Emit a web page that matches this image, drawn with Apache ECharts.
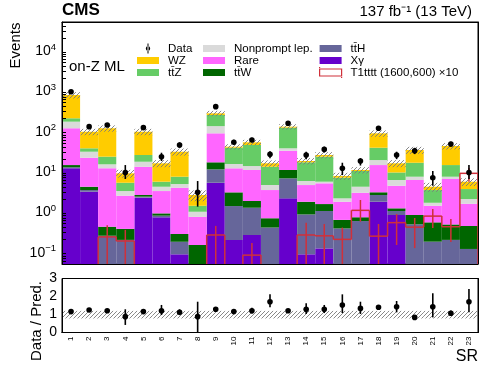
<!DOCTYPE html>
<html>
<head>
<meta charset="utf-8">
<script src="https://cdn.jsdelivr.net/npm/echarts@6/dist/echarts.min.js"></script>
<style>html,body{margin:0;padding:0;background:#fff}#chart{width:498px;height:374px}</style>
</head>
<body>
<div id="chart"></div>
<script>
var bins = ['1','2','3','4','5','6','7','8','9','10','11','12','13','14','15','16','17','18','19','20','21','22','23'];

// backgrounds, bottom of stack first
var xgamma    = [11.8, 3.10, 0.001, 0.001, 2.21, 0.72, 0.087, 0.001, 5.17, 0.197, 0.262, 0.001, 2.12, 0.087, 0.122, 0.001, 0.001, 1.75, 0.82, 0.001, 0.001, 0.001, 0.001];
var tth       = [0.7, 0.31, 0.25, 0.197, 0.13, 0.07, 0.091, 0.01, 5.93, 1.17, 0.98, 0.40, 4.53, 0.76, 0.91, 0.38, 0.58, 0.82, 0.21, 0.48, 0.178, 0.197, 0.117];
var ttw       = [1.7, 0.71, 0.17, 0.173, 0.23, 0.11, 0.099, 0.137, 5.5, 1.62, 0.58, 0.28, 4.05, 0.9, 0.5, 0.24, 0.14, 0.43, 0.17, 0.34, 0.36, 0.28, 0.32];
var rare      = [101.8, 17.5, 11.4, 2.1, 10.3, 2.32, 3.61, 0.59, 70.3, 8.8, 8.9, 2.73, 21.5, 2.79, 3.47, 1.13, 2.2, 11.2, 3.16, 5.22, 0.85, 5.92, 1.12];
var nonprompt = [53, 8.8, 3.0, 0.75, 4.3, 0.9, 0.91, 0.25, 44.1, 3.3, 2.7, 1.13, 4.7, 1.18, 0.49, 0.37, 1.2, 4.7, 1.68, 1.26, 0.26, 0.9, 0.48];
var ttz       = [36, 6.5, 8.1, 1.95, 8.0, 1.37, 2.5, 0.4, 116, 23.1, 31.2, 8.36, 83.1, 10.9, 17.4, 4.76, 5.98, 19.3, 3.26, 8.9, 1.76, 6.9, 1.57];
var wz        = [569, 58.1, 93.1, 3.68, 69.8, 10.2, 23.1, 1.18, 25, 2.3, 7.4, 2.8, 7, 1.3, 2.3, 0.72, 0.6, 48.7, 6.4, 17.3, 0.71, 27.9, 1.88];
// relative uncertainty of the prediction
var predUnc   = [0.18, 0.18, 0.18, 0.22, 0.18, 0.2, 0.2, 0.3, 0.15, 0.15, 0.15, 0.18, 0.15, 0.18, 0.18, 0.2, 0.18, 0.18, 0.2, 0.2, 0.25, 0.18, 0.22];

// observed
var dataObs = [935, 127, 140, 9.3, 120, 22.9, 44.6, 3.0, 398, 52, 59.3, 26.2, 154, 25.2, 34.7, 11.8, 17.9, 116, 25.2, 32.2, 6.88, 47.2, 9.3];
var dataLo  = [900, 116, 128, 6.4, 109, 17.9, 38, 1.32, 378, 45, 52, 21, 142, 19.9, 29, 8.0, 13.8, 105, 19.9, 26.5, 4.36, 40.5, 6.4];
var dataHi  = [970, 138, 152, 14.2, 131, 28.7, 52, 5.7, 418, 60, 67, 31, 166, 30.4, 40.5, 16.2, 21.1, 127, 30.4, 38, 10.1, 54, 14.2];

// signal T1tttt x10
var sig   = [0.02, 0.02, 0.235, 0.186, 0.02, 0.02, 0.02, 0.02, 0.262, 0.02, 0.083, 0.02, 0.02, 0.262, 0.25, 0.204, 1.07, 0.245, 0.53, 0.41, 0.77, 0.42, 8.85];
var sigLo = [0.01, 0.01, 0.01, 0.01, 0.01, 0.01, 0.01, 0.01, 0.01, 0.01, 0.01, 0.01, 0.01, 0.01, 0.01, 0.01, 0.56, 0.01, 0.148, 0.124, 0.39, 0.175, 5.5];
var sigHi = [0.03, 0.03, 0.46, 0.35, 0.03, 0.03, 0.03, 0.03, 0.44, 0.03, 0.166, 0.03, 0.03, 0.53, 0.49, 0.40, 1.93, 0.49, 0.87, 0.69, 1.15, 0.65, 12];

// ratio panel
var ratio   = [1.16, 1.25, 1.21, 0.88, 1.16, 1.21, 1.12, 0.88, 1.29, 1.16, 1.21, 1.71, 1.21, 1.29, 1.29, 1.53, 1.34, 1.40, 1.43, 0.84, 1.43, 1.07, 1.71];
var ratioLo = [1.10, 1.15, 1.10, 0.42, 1.05, 0.97, 0.97, 0.0, 1.22, 1.04, 1.05, 1.40, 1.11, 1.03, 1.08, 1.08, 1.03, 1.28, 1.12, 0.72, 0.84, 0.92, 1.12];
var ratioHi = [1.22, 1.35, 1.32, 1.29, 1.27, 1.53, 1.29, 1.71, 1.36, 1.28, 1.37, 2.12, 1.31, 1.62, 1.53, 2.12, 1.71, 1.52, 1.75, 0.96, 2.18, 1.22, 2.42];
var bandLo = 0.78, bandHi = 1.2;

var comps  = [xgamma, tth, ttw, rare, nonprompt, ttz, wz];
var names  = ['X\u03b3', 'tt\u0304H', 'tt\u0304W', 'Rare', 'Nonprompt lep.', 'tt\u0304Z', 'WZ'];
var colors = ['#6600cc', '#66669a', '#006600', '#ff66ff', '#dadada', '#66cc66', '#ffcc00'];
var sigName = 'T1tttt (1600,600) \u00d710';
var sigColor = '#d0303a';
var FONT = 'Liberation Sans';

function hatchCanvas() {
    var c = document.createElement('canvas');
    c.width = 4; c.height = 4;
    var g = c.getContext('2d');
    g.strokeStyle = '#7a7a7a';
    g.lineWidth = 0.9;
    g.beginPath();
    g.moveTo(0, 4); g.lineTo(4, 0);
    g.moveTo(-1, 1); g.lineTo(1, -1);
    g.moveTo(3, 5); g.lineTo(5, 3);
    g.stroke();
    return c;
}
var hatch = { image: hatchCanvas(), repeat: 'repeat' };

function clampY(y, cs) {
    return Math.max(cs.y, Math.min(cs.y + cs.height, y));
}

function stackRender(k) {
    return function (params, api) {
        var i = api.value(0);
        var lo = 0;
        for (var j = 0; j < k; j++) lo += comps[j][i];
        var hi = lo + api.value(1);
        var cs = params.coordSys;
        var pHi = api.coord([i, hi]);
        var yHi = clampY(pHi[1], cs);
        var yLo = lo > 0 ? clampY(api.coord([i, lo])[1], cs) : cs.y + cs.height;
        if (yLo - yHi <= 0) return;
        var w = api.size([1, 1])[0];
        return { type: 'rect', shape: { x: pHi[0] - w / 2, y: yHi, width: w, height: yLo - yHi },
                 style: { fill: colors[k] } };
    };
}

function bandRender(params, api) {
    var i = api.value(0);
    var cs = params.coordSys;
    var p1 = api.coord([i, api.value(1)]);
    var p2 = api.coord([i, api.value(2)]);
    var w = api.size([1, 1])[0];
    var y1 = clampY(p1[1], cs), y2 = clampY(p2[1], cs);
    return { type: 'rect', shape: { x: p1[0] - w / 2, y: y2, width: w, height: y1 - y2 },
             style: { fill: hatch } };
}

function pointRender(params, api) {
    var i = api.value(0);
    var cs = params.coordSys;
    var p = api.coord([i, api.value(1)]);
    var lo = api.value(2) > 0 || cs.height < 100 ? clampY(api.coord([i, Math.max(api.value(2), 1e-6)])[1], cs) : cs.y + cs.height;
    var hi = clampY(api.coord([i, api.value(3)])[1], cs);
    return { type: 'group', children: [
        { type: 'line', shape: { x1: p[0], y1: lo, x2: p[0], y2: hi }, style: { stroke: '#000', lineWidth: 1.6 } },
        { type: 'circle', shape: { cx: p[0], cy: p[1], r: 2.8 }, style: { fill: '#000' } }
    ] };
}

function sigRender(params, api) {
    var i = api.value(0);
    var cs = params.coordSys;
    var bottom = cs.y + cs.height;
    var w = api.size([1, 1])[0];
    var p = api.coord([i, api.value(1)]);
    var y = clampY(p[1], cs);
    var x0 = p[0] - w / 2, x1 = p[0] + w / 2;
    var yPrev = i > 0 ? clampY(api.coord([i - 1, sig[i - 1]])[1], cs) : bottom;
    var st = { stroke: sigColor, lineWidth: 1.5 };
    var ch = [];
    if (y < bottom) ch.push({ type: 'line', shape: { x1: x0, y1: y, x2: x1, y2: y }, style: st });
    if (Math.abs(yPrev - y) > 0.5) ch.push({ type: 'line', shape: { x1: x0, y1: yPrev, x2: x0, y2: y }, style: st });
    if (i === bins.length - 1 && y < bottom) ch.push({ type: 'line', shape: { x1: x1, y1: y, x2: x1, y2: bottom }, style: st });
    var eLo = clampY(api.coord([i, api.value(2)])[1], cs);
    var eHi = clampY(api.coord([i, api.value(3)])[1], cs);
    if (eLo - eHi > 0.5 && y < bottom) ch.push({ type: 'line', shape: { x1: p[0], y1: eLo, x2: p[0], y2: eHi }, style: st });
    return { type: 'group', children: ch };
}

function logLabel(v) {
    var l = Math.log(v) / Math.LN10;
    var e = Math.round(l);
    if (Math.abs(l - e) > 1e-6) return '';
    return '{b|10}{s|' + (e < 0 ? '\u2212' + (-e) : e) + '}';
}

var series = [];
comps.forEach(function (arr, k) {
    series.push({
        type: 'custom', name: names[k], xAxisIndex: 0, yAxisIndex: 0,
        itemStyle: { color: colors[k] },
        renderItem: stackRender(k),
        data: arr.map(function (v, i) { return [i, v]; }),
        z: 2
    });
});
series.push({
    type: 'custom', name: 'unc', xAxisIndex: 0, yAxisIndex: 0, z: 3,
    renderItem: bandRender,
    data: bins.map(function (b, i) {
        var tot = 0;
        for (var k = 0; k < comps.length; k++) tot += comps[k][i];
        return [i, tot * (1 - predUnc[i]), tot * (1 + predUnc[i])];
    })
});
series.push({
    type: 'custom', name: sigName, xAxisIndex: 0, yAxisIndex: 0, z: 4,
    itemStyle: { color: '#fff', borderColor: sigColor, borderWidth: 1.2 },
    renderItem: sigRender,
    data: sig.map(function (v, i) { return [i, v, sigLo[i], sigHi[i]]; })
});
series.push({
    type: 'custom', name: 'Data', xAxisIndex: 0, yAxisIndex: 0, z: 5,
    itemStyle: { color: '#000' },
    renderItem: pointRender,
    data: dataObs.map(function (v, i) { return [i, v, dataLo[i], dataHi[i]]; })
});
series.push({
    type: 'custom', name: 'band', xAxisIndex: 2, yAxisIndex: 2, z: 3,
    renderItem: bandRender,
    data: bins.map(function (b, i) { return [i, bandLo, bandHi]; })
});
series.push({
    type: 'custom', name: 'ratio', xAxisIndex: 2, yAxisIndex: 2, z: 5,
    renderItem: pointRender,
    data: ratio.map(function (v, i) { return [i, v, ratioLo[i], ratioHi[i]]; })
});

var blackLine = { show: true, lineStyle: { color: '#000', width: 1 } };
var legendBase = {
    orient: 'vertical', top: 42.5, padding: 0, itemWidth: 22, itemHeight: 10, itemGap: 0,
    icon: 'rect', selectedMode: false,
    textStyle: { fontFamily: FONT, fontSize: 11.5, color: '#000', lineHeight: 11.7, padding: [0, 0, 0, 4] }
};
function legendAt(left, data) {
    return Object.assign({}, legendBase, { left: left, data: data });
}
// swatch 22x7 inside a 22x10 box (tiny corner specks keep the box size)
var boxIcon = 'path://M0,0H0.01V0.01H0Z M0,1.5H22V8.5H0Z M21.99,9.99H22V10H21.99Z';
var dataIcon = 'path://M1.7,0H2.7V10H1.7Z M0,5A2.2,2.2,0,1,0,4.4,5A2.2,2.2,0,1,0,0,5Z';
function box(name, extra) {
    return Object.assign({ name: name, icon: boxIcon }, extra || {});
}

var option = {
    animation: false,
    textStyle: { fontFamily: FONT },
    grid: [
        { left: 62, top: 22, width: 416, height: 242, show: true, borderColor: '#000', borderWidth: 1, backgroundColor: 'transparent' },
        { left: 62, top: 278.5, width: 416, height: 54, show: true, borderColor: '#000', borderWidth: 1, backgroundColor: 'transparent' }
    ],
    legend: [
        legendAt(137, [{ name: 'Data', icon: dataIcon, itemStyle: { color: '#000' } }, box('WZ'), box('tt\u0304Z')]),
        legendAt(203, [box('Nonprompt lep.'), box('Rare'), box('tt\u0304W')]),
        legendAt(319, [box('tt\u0304H'), box('X\u03b3'), box(sigName, { itemStyle: { color: '#fff', borderColor: sigColor, borderWidth: 1.2 } })])
    ],
    xAxis: [
        { type: 'category', gridIndex: 0, data: bins, z: 10, axisLine: blackLine,
          axisTick: { inside: true, alignWithLabel: true, length: 4, lineStyle: { color: '#000' } },
          axisLabel: { show: false } },
        { type: 'category', gridIndex: 0, data: bins, position: 'top', z: 10, axisLine: blackLine,
          axisTick: { show: false }, axisLabel: { show: false } },
        { type: 'category', gridIndex: 1, data: bins, z: 10, axisLine: blackLine,
          axisTick: { inside: true, alignWithLabel: true, length: 4, lineStyle: { color: '#000' } },
          axisLabel: { rotate: 90, fontSize: 8, margin: 4, color: '#000', fontFamily: FONT } },
        { type: 'category', gridIndex: 1, data: bins, position: 'top', z: 10, axisLine: blackLine,
          axisTick: { show: false }, axisLabel: { show: false } }
    ],
    yAxis: [
        { type: 'log', logBase: 10, gridIndex: 0, min: 0.05, max: 50000, z: 10,
          axisLine: blackLine, splitLine: { show: false },
          axisTick: { inside: true, length: 8, lineStyle: { color: '#000' } },
          minorTick: { show: true, splitNumber: 9, length: 4, lineStyle: { color: '#000' } },
          axisLabel: { formatter: logLabel, margin: 6, showMinLabel: false, showMaxLabel: false,
              rich: {
                  b: { fontSize: 14, fontFamily: FONT, color: '#000', lineHeight: 16, verticalAlign: 'bottom' },
                  s: { fontSize: 9.5, fontFamily: FONT, color: '#000', lineHeight: 10, verticalAlign: 'top' }
              } } },
        { type: 'log', logBase: 10, gridIndex: 0, min: 0.05, max: 50000, position: 'right', z: 10,
          axisLine: blackLine, splitLine: { show: false }, axisTick: { show: false }, axisLabel: { show: false } },
        { type: 'value', gridIndex: 1, min: 0, max: 3, interval: 1, z: 10,
          axisLine: blackLine, splitLine: { show: false },
          axisTick: { inside: true, length: 6, lineStyle: { color: '#000' } },
          axisLabel: { fontSize: 14, margin: 5, color: '#000', fontFamily: FONT } },
        { type: 'value', gridIndex: 1, min: 0, max: 3, interval: 1, position: 'right', z: 10,
          axisLine: blackLine, splitLine: { show: false }, axisTick: { show: false }, axisLabel: { show: false } }
    ],
    graphic: [
        { type: 'text', x: 62, y: 10.5, style: { text: 'CMS', fontSize: 17, fontWeight: 'bold', fontFamily: FONT, fill: '#000', align: 'left', verticalAlign: 'middle', textAlign: 'left', textVerticalAlign: 'middle' } },
        { type: 'text', x: 472, y: 11.5, style: { text: '137 fb\u207B\u00B9 (13 TeV)', fontSize: 15, fontFamily: FONT, fill: '#000', align: 'right', verticalAlign: 'middle', textAlign: 'right', textVerticalAlign: 'middle' } },
        { type: 'text', x: 69, y: 66.5, style: { text: 'on-Z ML', fontSize: 15, fontFamily: FONT, fill: '#000', align: 'left', verticalAlign: 'middle', textAlign: 'left', textVerticalAlign: 'middle' } },
        { type: 'text', x: 16, y: 45.5, rotation: Math.PI / 2, style: { text: 'Events', fontSize: 15, fontFamily: FONT, fill: '#000', align: 'center', verticalAlign: 'middle', textAlign: 'center', textVerticalAlign: 'middle' } },
        { type: 'text', x: 37, y: 321, rotation: Math.PI / 2, style: { text: 'Data / Pred.', fontSize: 15, fontFamily: FONT, fill: '#000', align: 'center', verticalAlign: 'middle', textAlign: 'center', textVerticalAlign: 'middle' } },
        { type: 'text', x: 478, y: 357, style: { text: 'SR', fontSize: 16, fontFamily: FONT, fill: '#000', align: 'right', verticalAlign: 'middle', textAlign: 'right', textVerticalAlign: 'middle' } }
    ],
    series: series
};

var chart = echarts.init(document.getElementById('chart'), null, { renderer: 'canvas' });
chart.setOption(option);
</script>
</body>
</html>
